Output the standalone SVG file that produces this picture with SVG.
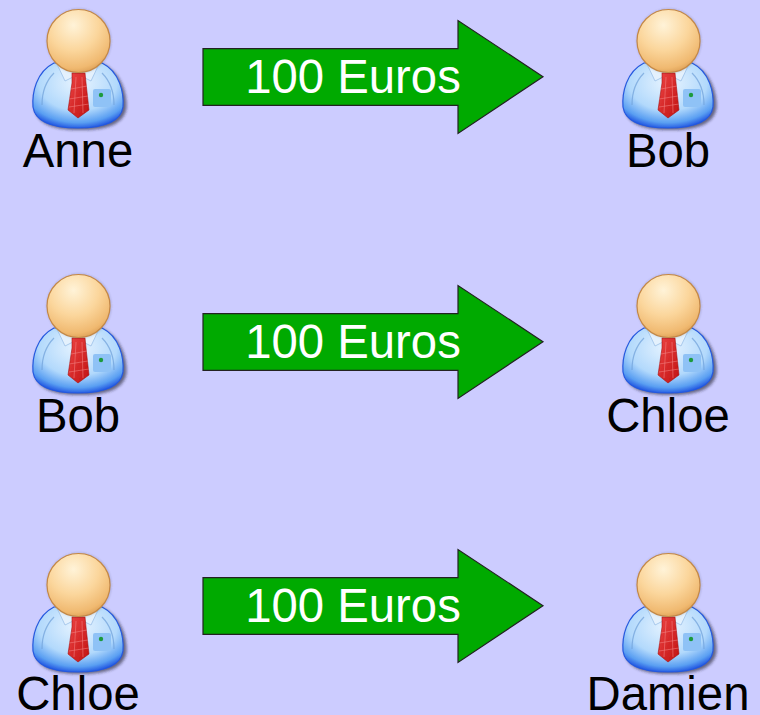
<svg xmlns="http://www.w3.org/2000/svg" width="760" height="715" viewBox="0 0 760 715">
<style>
text{font-family:"Liberation Sans",Arial,sans-serif;font-size:47.3px;text-anchor:middle}
.name{fill:#000}
.amount{fill:#fff}
.arrow{fill:#00aa00;stroke:#222;stroke-width:1.2}
</style>
<defs>
<radialGradient id="head" cx="0.42" cy="0.25" r="0.8">
<stop offset="0" stop-color="#fff3d8"/><stop offset="0.5" stop-color="#fbd69c"/><stop offset="0.85" stop-color="#f0b970"/><stop offset="1" stop-color="#d99a50"/>
</radialGradient>
<radialGradient id="body" cx="0.5" cy="0.3" r="0.72">
<stop offset="0" stop-color="#e8f4ff"/><stop offset="0.6" stop-color="#b2d9fc"/><stop offset="0.86" stop-color="#5a9ff2"/><stop offset="1" stop-color="#1c50e0"/>
</radialGradient>
<linearGradient id="tie" x1="0" y1="0" x2="1" y2="1">
<stop offset="0" stop-color="#ee4444"/><stop offset="1" stop-color="#c01212"/>
</linearGradient>
<filter id="soft" x="-20%" y="-20%" width="140%" height="140%"><feGaussianBlur stdDeviation="1.4"/></filter>
<filter id="raster" x="-5%" y="-5%" width="110%" height="110%"><feGaussianBlur stdDeviation="0.45"/></filter>
<g id="person" filter="url(#raster)">
<path d="M-24 22C-42 31 -47 52 -45 66C-43 81 -28 88 1 88C30 88 45 81 47 66C48 52 42 31 24 22Z" fill="#223" opacity=".6" filter="url(#soft)" transform="translate(1.5 1)"/>
<path d="M-24 22C-42 31 -46 52 -45 66C-43 80 -28 87 0 87C28 87 43 80 45 66C46 52 42 31 24 22Z" fill="url(#body)" stroke="#2458e0" stroke-width="1.2"/>
<path d="M-36 64C-36 50 -32 40 -24 32M36 64C36 50 32 40 24 32" fill="none" stroke="#6f9fd8" stroke-width="1.2" opacity=".7"/>
<path d="M-21 23L-9 24L-3 35L-13 40Z M21 23L9 24L3 35L13 40Z" fill="#e4f1fd" stroke="#9cc0e8" stroke-width=".8"/>
<path d="M-6 32H7L8 42L11 69L0 77L-10 69L-6 42Z" fill="url(#tie)" stroke="#a81010" stroke-width=".6"/>
<path d="M-7 48L9 45M-9 58L10 55M-9 66L11 63M-2 36L-4 72M4 36L5 72" stroke="#f48a8a" stroke-width="1" opacity=".5" fill="none"/>
<rect x="15" y="48" width="18" height="18" rx="2" fill="#8fc2f6"/>
<circle cx="23" cy="54" r="2.2" fill="#1f9a3c"/>
<circle cx="1" cy="0" r="31.5" fill="#334" opacity=".4" filter="url(#soft)"/>
<circle cx="0.5" cy="0" r="31.5" fill="url(#head)" stroke="#c48846" stroke-width="1.2"/>
</g>
<polygon id="arrowshape" class="arrow" points="203,48.7 458,48.7 458,20.5 543,76.7 458,133.5 458,105.3 203,105.3"/>
</defs>
<rect width="760" height="715" fill="#ccccff"/>
<g id="connectors">
<g id="payment-1"><use href="#arrowshape"/><text class="amount" x="353" y="93">100 Euros</text></g>
<g id="payment-2"><use href="#arrowshape" y="265"/><text class="amount" x="353" y="358">100 Euros</text></g>
<g id="payment-3"><use href="#arrowshape" y="529"/><text class="amount" x="353" y="622">100 Euros</text></g>
</g>
<g id="anne"><use href="#person" x="78" y="41"/><text class="name" x="78" y="167">Anne</text></g>
<g id="bob-receiver"><use href="#person" x="668" y="41"/><text class="name" x="668" y="167">Bob</text></g>
<g id="bob-sender"><use href="#person" x="78" y="306"/><text class="name" x="78" y="432">Bob</text></g>
<g id="chloe-receiver"><use href="#person" x="668" y="306"/><text class="name" x="668" y="432">Chloe</text></g>
<g id="chloe-sender"><use href="#person" x="78" y="585"/><text class="name" x="78" y="710">Chloe</text></g>
<g id="damien"><use href="#person" x="668" y="585"/><text class="name" x="668" y="710">Damien</text></g>
</svg>
